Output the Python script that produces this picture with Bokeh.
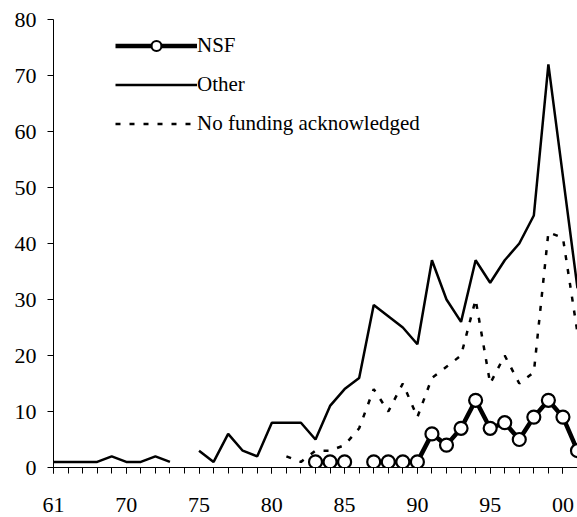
import math
from bokeh.plotting import figure
from bokeh.models import FixedTicker, Legend, LegendItem, Range1d, ColumnDataSource
from bokeh.embed import file_html
from bokeh.resources import INLINE

nan = float("nan")

# category positions (one per year slot) and the labelled ones
positions = list(range(37))
tick_positions = [0, 5, 10, 15, 20, 25, 30, 35]
tick_labels = ["61", "70", "75", "80", "85", "90", "95", "00"]
y_ticks = [0, 10, 20, 30, 40, 50, 60, 70, 80]

nsf = [nan] * 18 + [1, 1, 1, nan, 1, 1, 1, 1, 6, 4, 7, 12, 7, 8, 5, 9, 12, 9, 3]
other = [1, 1, 1, 1, 2, 1, 1, 2, 1, nan,
         3, 1, 6, 3, 2, 8, 8, 8, 5, 11,
         14, 16, 29, 27, 25, 22, 37, 30, 26, 37,
         33, 37, 40, 45, 72, 52, 32]
no_funding = [nan] * 7 + [1] + [nan] * 8 + [2, 1, 3, 3, 4, 7, 14, 10, 15, 9,
                                            16, 18, 20, 30, 15, 20, 15, 17, 42, 41, 24]

source = ColumnDataSource(dict(x=positions, nsf=nsf, other=other, nof=no_funding))

FONT = "Liberation Serif"

p = figure(width=577, height=517, output_backend="svg", toolbar_location=None,
           x_range=Range1d(0, 36), y_range=Range1d(0, 80),
           min_border_left=53, min_border_right=0, min_border_top=19, min_border_bottom=50)
p.outline_line_color = None
p.xgrid.visible = False
p.ygrid.visible = False
p.background_fill_color = "white"

r_other = p.line("x", "other", source=source, line_color="black", line_width=2.5)
r_nof = p.line("x", "nof", source=source, line_color="black", line_width=2.5, line_dash="5 9")
r_nsf_l = p.line("x", "nsf", source=source, line_color="black", line_width=4.5)
r_nsf_s = p.scatter("x", "nsf", source=source, marker="circle", size=13,
                    fill_color="white", line_color="black", line_width=2.2)

# axes
xa = p.xaxis[0]
xa.ticker = FixedTicker(ticks=tick_positions, minor_ticks=positions)
xa.major_label_overrides = {t: l for t, l in zip(tick_positions, tick_labels)}
xa.major_tick_in = 0
xa.major_tick_out = 6
xa.minor_tick_in = 0
xa.minor_tick_out = 6
xa.axis_line_color = "black"
xa.major_tick_line_color = "black"
xa.minor_tick_line_color = "black"
xa.major_label_text_font = FONT
xa.major_label_text_font_size = "22px"
xa.major_label_text_color = "black"
xa.major_label_standoff = 24

ya = p.yaxis[0]
ya.ticker = FixedTicker(ticks=y_ticks)
ya.major_tick_in = 0
ya.major_tick_out = 6
ya.minor_tick_line_color = None
ya.axis_line_color = "black"
ya.major_tick_line_color = "black"
ya.major_label_text_font = FONT
ya.major_label_text_font_size = "22px"
ya.major_label_text_color = "black"
ya.major_label_standoff = 11

legend = Legend(items=[
    LegendItem(label="NSF", renderers=[r_nsf_l, r_nsf_s]),
    LegendItem(label="Other", renderers=[r_other]),
    LegendItem(label="No funding acknowledged", renderers=[r_nof]),
], location=(62, 331), glyph_width=82, glyph_height=25, label_height=25,
    label_standoff=0, spacing=14, padding=0, margin=0,
    border_line_alpha=0, background_fill_alpha=0,
    label_text_font=FONT, label_text_font_size="21px", label_text_color="black")
p.add_layout(legend)

open("out.html", "w").write(file_html(p, INLINE))
